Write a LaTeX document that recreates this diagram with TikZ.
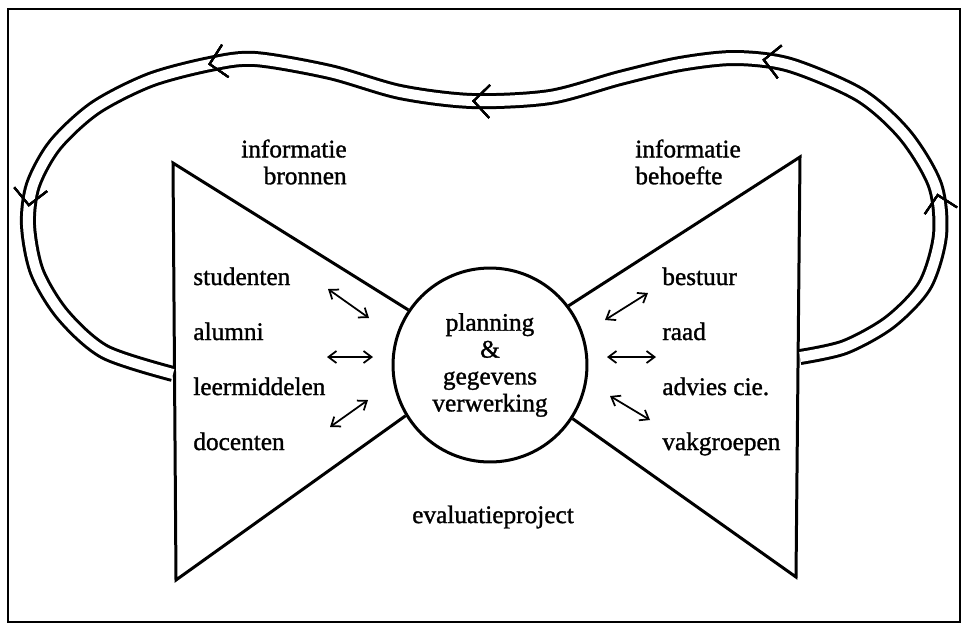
\documentclass[tikz,border=0pt]{standalone}
\usepackage{fontspec}
\setmainfont{Liberation Serif}[FakeBold=1.2]
\usetikzlibrary{arrows.meta,decorations.markings}

\tikzset{
  frameline/.style={line width=0.03cm},
  bowline/.style={line width=0.06cm},
  track/.style={line width=0.06cm, double distance=0.2cm},
  flow/.style={line width=0.035cm,
    {Straight Barb[length=0.16cm,width=0.24cm]}-{Straight Barb[length=0.16cm,width=0.24cm]}},
  lbl/.style={inner sep=0pt, font=\fontsize{14.4}{15.3}\selectfont},
  chevron/.style={decoration={markings,
      mark=at position #1 with {\draw[line width=0.04cm] (-0.32cm,0.33cm) -- (0,0) -- (-0.32cm,-0.33cm);}},
    postaction={decorate}}
}

% points of the feedback loop, right funnel back to the left funnel
\def\looppts{(800,357) (845,347) (890,322) (925,285) (940,235) (935,185) (905,135) (860,95)
  (790,65) (735,58) (680,64) (620,78) (550,97) (472,101) (400,92) (330,72) (255,59) (210,64)
  (150,80) (95,108) (55,145) (33,185) (28,225) (37,272) (63,315) (105,352) (173,374)}

\begin{document}
\begin{tikzpicture}[x=0.02cm, y=-0.02cm]
    \useasboundingbox (0,0) rectangle (967,630);
    \draw[frameline] (8,9) rectangle (960,622);

    % centre of the bow tie
    \node[draw, circle, bowline, minimum size=3.88cm, lbl, align=center] (hub) at (490,365)
        {planning\\\&\\gegevens\\verwerking};

    % the two funnels
    \draw[bowline] (hub.146) -- (173,163) -- (176,580) -- (hub.211.5);
    \draw[bowline] (hub.37) -- (800,157) -- (796,577) -- (hub.-33);

    % feedback loop
    \draw[track] plot[smooth] coordinates {\looppts};
    \path[chevron=0.158, chevron=0.31, chevron=0.503, chevron=0.679, chevron=0.839]
        plot[smooth] coordinates {\looppts};

    \node[lbl, align=right, anchor=east] (bron) at (347,162) {informatie\\bronnen};
    \node[lbl, align=left, anchor=west] (behoefte) at (635,162) {informatie\\behoefte};

    % sources
    \node[lbl, anchor=base west] (stud) at (193,285) {studenten};
    \node[lbl, anchor=base west] (alum) at (193,340) {alumni};
    \node[lbl, anchor=base west] (leer) at (193,395) {leermiddelen};
    \node[lbl, anchor=base west] (doc) at (193,450) {docenten};

    % users
    \node[lbl, anchor=base west] (best) at (662,285) {bestuur};
    \node[lbl, anchor=base west] (raad) at (662,340) {raad};
    \node[lbl, anchor=base west] (advies) at (662,395) {advies cie.};
    \node[lbl, anchor=base west] (vak) at (662,450) {vakgroepen};

    \draw[flow] (328,289) -- (369,318);
    \draw[flow] (327,357) -- (373,357);
    \draw[flow] (330,427) -- (368,400);
    \draw[flow] (605,320) -- (648,293);
    \draw[flow] (607,357) -- (656,357);
    \draw[flow] (610,396) -- (650,420);

    \node[lbl] (project) at (493,517) {evaluatieproject};
\end{tikzpicture}
\end{document}
